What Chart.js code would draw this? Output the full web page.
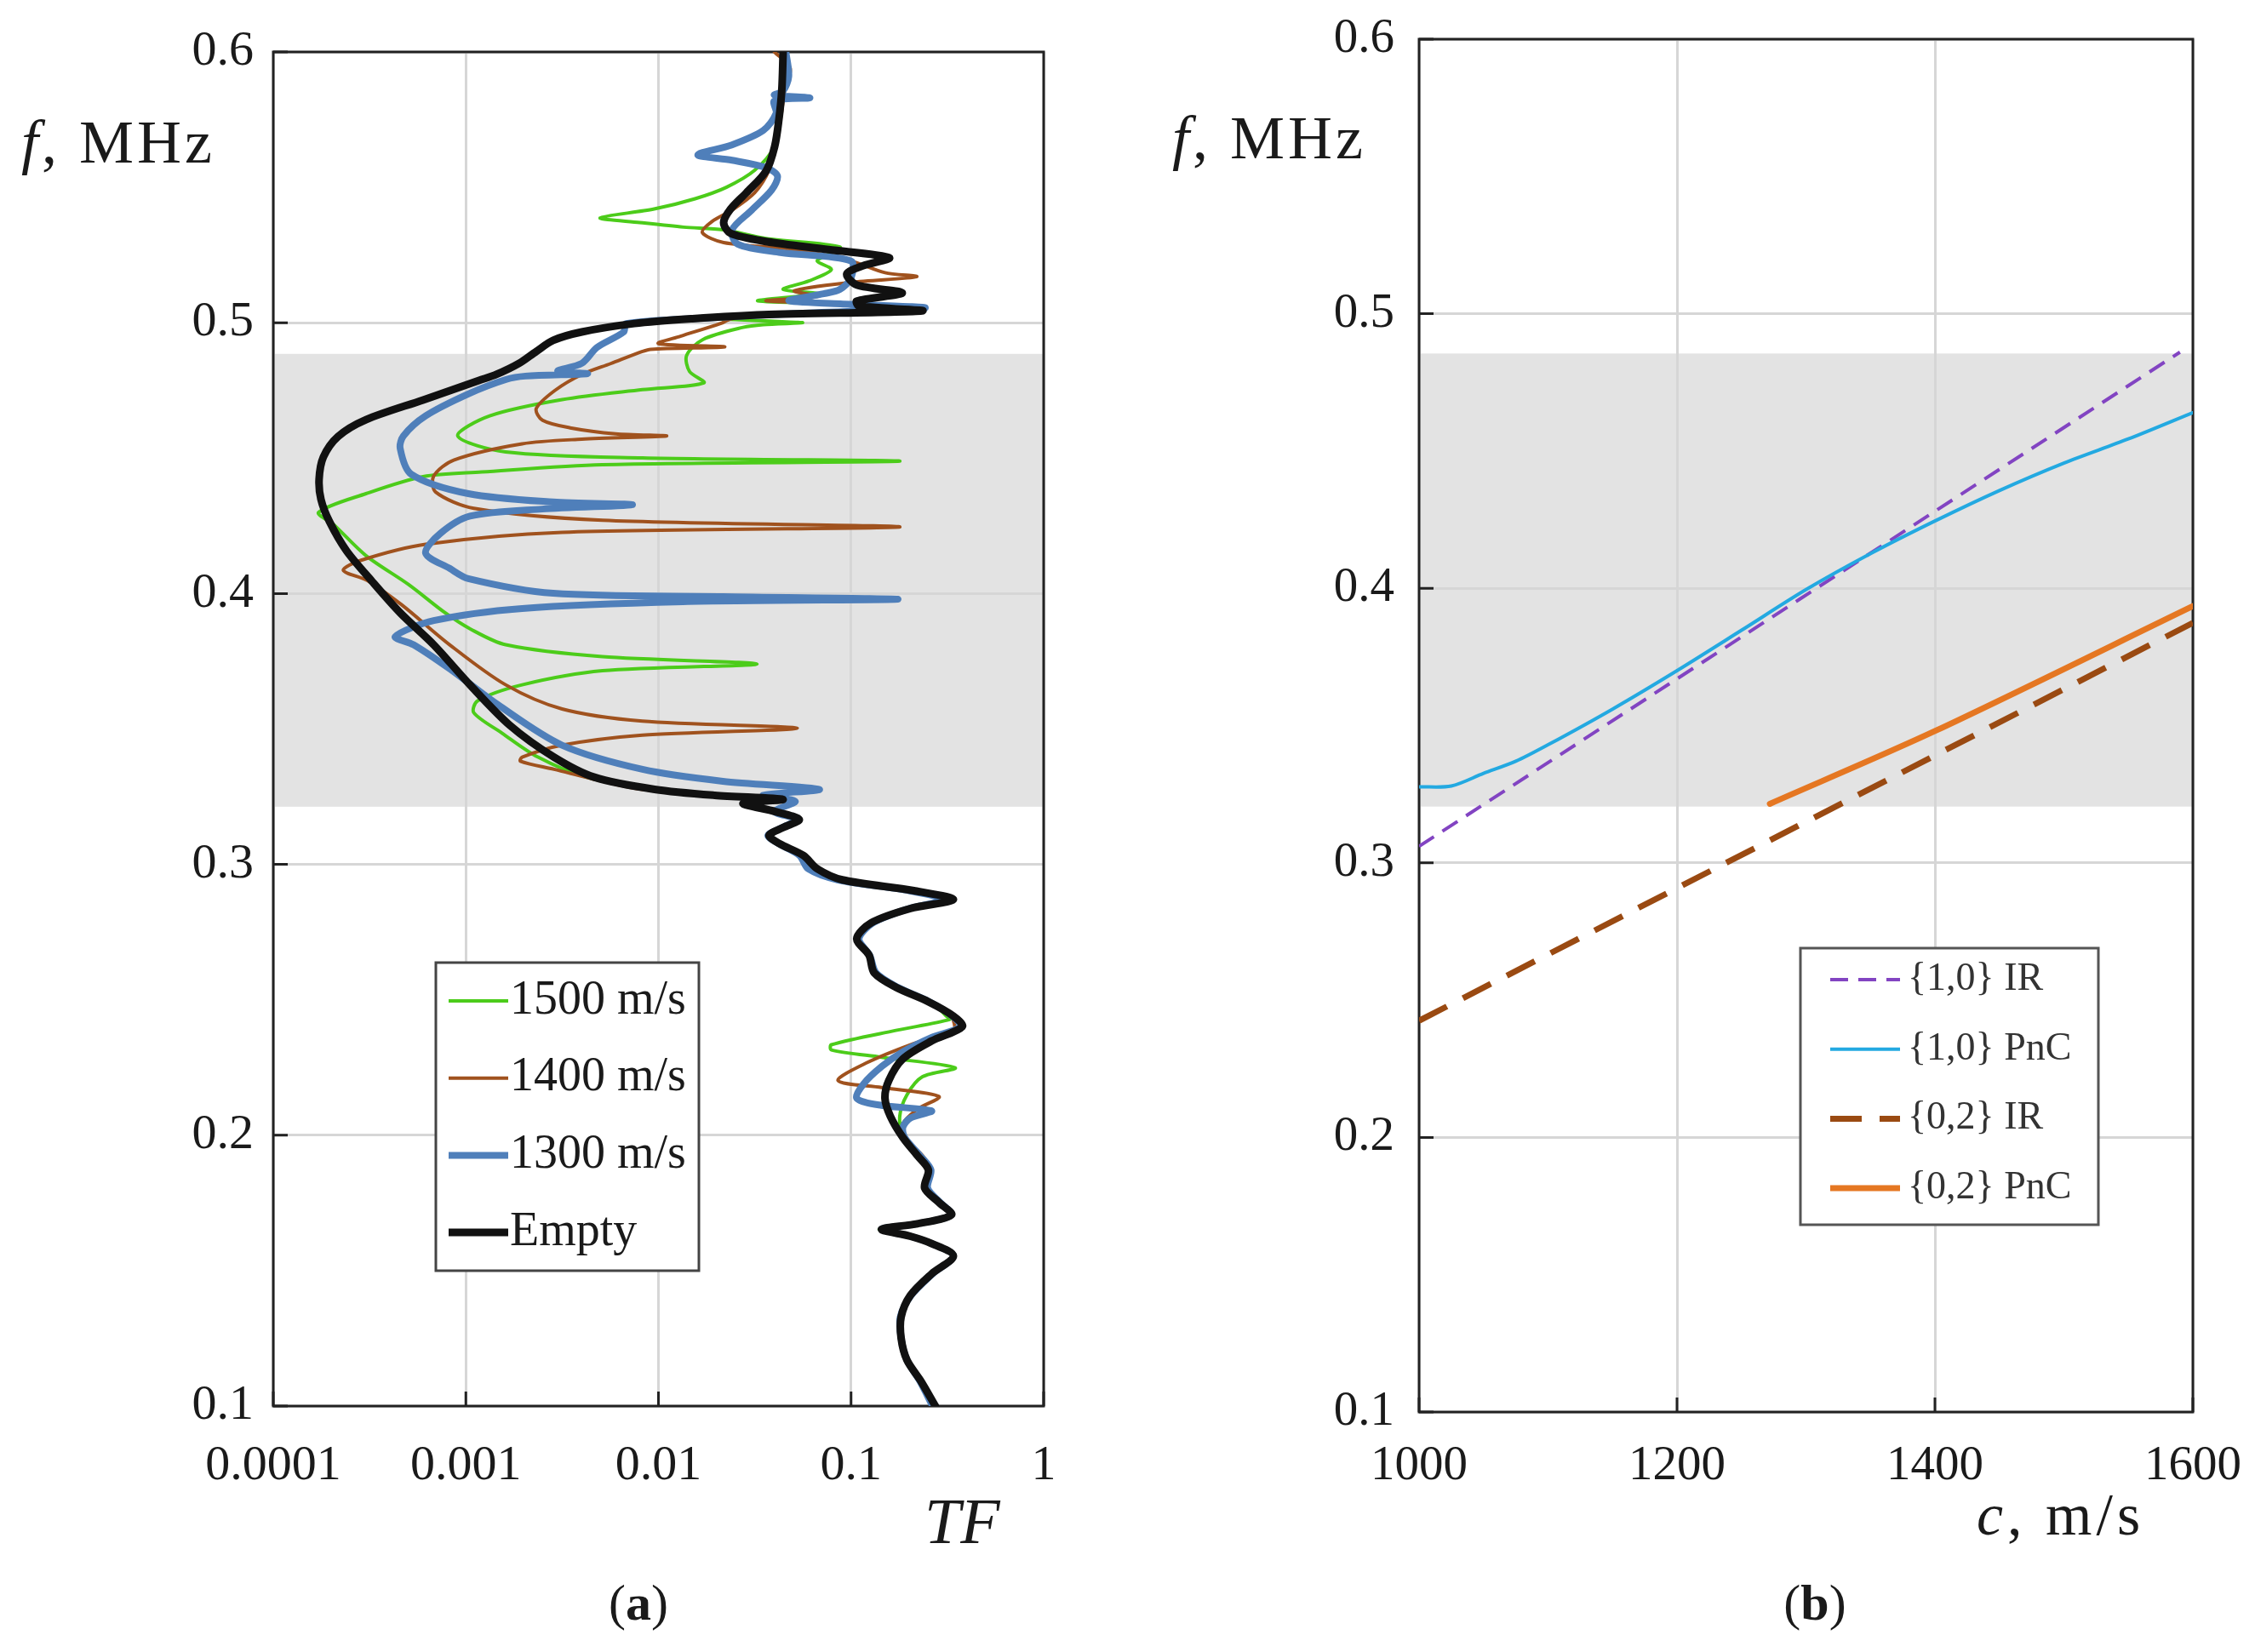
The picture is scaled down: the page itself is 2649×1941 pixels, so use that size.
<!DOCTYPE html>
<html>
<head>
<meta charset="utf-8">
<title>TF and band edges</title>
<script src="https://cdn.jsdelivr.net/npm/chart.js@4/dist/chart.umd.min.js"></script>
<style>
  html, body { margin: 0; padding: 0; background: #fff; }
  body { width: 2649px; height: 1941px; position: relative; overflow: hidden;
         font-family: "Liberation Serif", serif; color: #1a1a1a; }
  .pane { position: absolute; top: 0; }
  .lbl { position: absolute; line-height: 1; white-space: nowrap; }
</style>
</head>
<body>
<div class="pane" style="left:0;width:1300px;height:1800px"><canvas id="tfChart" width="1300" height="1800"></canvas></div>
<div class="pane" style="left:1340px;width:1309px;height:1800px"><canvas id="speedChart" width="1309" height="1800"></canvas></div>

<div class="lbl" style="left:25px;top:131px;font-size:72px;letter-spacing:4px"><i>f</i>, MHz</div>
<div class="lbl" style="left:1086px;top:1749px;font-size:76px"><i>TF</i></div>
<div class="lbl" style="left:650px;width:200px;text-align:center;top:1853px;font-size:60px">(<b>a</b>)</div>

<div class="lbl" style="left:1377px;top:126px;font-size:72px;letter-spacing:4px"><i>f</i>, MHz</div>
<div class="lbl" style="left:2322px;top:1745px;font-size:70px;letter-spacing:5px"><i>c</i>, m/s</div>
<div class="lbl" style="left:2032px;width:200px;text-align:center;top:1853px;font-size:60px">(<b>b</b>)</div>

<script>
// ---------- (a) transmission factor, pairs are [f MHz, TF] ----------
var emptyCurve = [
  [0.600,0.0444],[0.586,0.0437],[0.575,0.0422],[0.565,0.0401],[0.556,0.0362],[0.548,0.0286],
  [0.542,0.0237],[0.537,0.0218],[0.533,0.0237],[0.530,0.0362],[0.527,0.0764],[0.524,0.158],
  [0.521,0.115],[0.518,0.095],[0.514,0.107],[0.511,0.1845],[0.508,0.107],[0.5062,0.11],
  [0.5044,0.234],[0.503,0.035],[0.5015,0.0150],[0.4997,0.0075],[0.4966,0.0040],[0.4935,0.00284],
  [0.4894,0.00232],[0.4850,0.00189],[0.4809,0.00144],[0.4787,0.00117],[0.4715,0.0006],
  [0.4642,0.000303],[0.4580,0.000217],[0.4504,0.000182],[0.4422,0.000173],[0.4347,0.000177],
  [0.4265,0.000196],[0.4158,0.00024],[0.4045,0.000326],[0.3929,0.000456],[0.3811,0.000681],
  [0.3663,0.00105],[0.3514,0.00169],
  [0.3396,0.00287],[0.3322,0.00464],[0.3277,0.00955],[0.3255,0.0196],[0.3240,0.0443],
  [0.3225,0.0275],[0.3195,0.0404],[0.3166,0.0538],[0.3136,0.0444],[0.3107,0.0375],[0.3077,0.0424],
  [0.3033,0.0565],[0.2983,0.067],[0.2943,0.090],[0.2903,0.212],[0.2870,0.340],[0.2837,0.203],
  [0.2784,0.127],[0.2725,0.107],[0.2665,0.124],[0.2599,0.132],[0.2546,0.171],[0.2493,0.252],
  [0.2440,0.340],[0.2401,0.378],[0.2348,0.262],[0.2282,0.186],[0.2202,0.157],[0.2136,0.150],
  [0.2070,0.160],[0.1991,0.186],[0.1925,0.221],[0.1872,0.252],[0.1805,0.241],[0.1752,0.286],
  [0.1706,0.332],[0.1673,0.221],[0.1653,0.144],[0.1627,0.203],[0.1600,0.262],[0.1554,0.340],
  [0.1488,0.262],[0.1408,0.203],[0.1329,0.182],[0.1250,0.182],[0.1170,0.195],[0.1091,0.231],
  [0.1000,0.274]
];
var c1300Curve = [
  [0.600,0.0459],[0.591,0.0475],[0.5856,0.0444],[0.5841,0.040],[0.583,0.0612],[0.5819,0.040],
  [0.5773,0.0408],[0.571,0.035],[0.5657,0.0241],[0.562,0.016],[0.560,0.0241],[0.5573,0.0362],
  [0.5542,0.0415],[0.549,0.0387],[0.5416,0.0305],[0.5343,0.0241],[0.529,0.0258],[0.5259,0.043],
  [0.5228,0.100],[0.5165,0.100],[0.5123,0.0875],[0.5107,0.072],[0.5081,0.0475],[0.507,0.088],
  [0.5055,0.242],[0.5034,0.0508],[0.5018,0.0184],[0.4997,0.0068],[0.4966,0.0066],[0.4909,0.0048],
  [0.4850,0.0040],[0.4822,0.0030],[0.4812,0.00428],[0.4803,0.00204],[0.4790,0.00161],[0.4737,0.00103],
  [0.4656,0.000618],[0.4582,0.000474],[0.4536,0.000456],[0.4441,0.00052],[0.4369,0.00103],
  [0.4338,0.00284],[0.4328,0.00733],[0.4312,0.00249],[0.4286,0.00105],[0.4221,0.000734],
  [0.4149,0.000618],[0.4093,0.000824],[0.4055,0.00103],[0.4001,0.00284],[0.3989,0.0216],
  [0.3979,0.175],[0.3970,0.0134],[0.3945,0.00196],[0.3900,0.000681],[0.3841,0.00043],
  [0.3811,0.000535],[0.3722,0.000824],[0.3589,0.00147],[0.3440,0.00316],[0.3351,0.00826],
  [0.3307,0.0216],[0.3277,0.0684],[0.3255,0.0349],[0.3233,0.0513],[0.3195,0.040],[0.3166,0.052],
  [0.3136,0.044],[0.3107,0.037],[0.3077,0.042],[0.3033,0.054],[0.2983,0.060],[0.2943,0.085],
  [0.2903,0.20],[0.2870,0.30],[0.2837,0.20],[0.2784,0.13],[0.2725,0.11],[0.2665,0.125],
  [0.2599,0.135],[0.2546,0.175],[0.2493,0.255],[0.2440,0.335],[0.2401,0.37],[0.2361,0.262],
  [0.2308,0.186],[0.2255,0.145],[0.2189,0.116],[0.2136,0.107],[0.2110,0.144],[0.2090,0.262],
  [0.2063,0.203],[0.2030,0.186],[0.1991,0.19],[0.1925,0.228],[0.1872,0.26],[0.1805,0.25],
  [0.1752,0.29],[0.1706,0.332],[0.1673,0.221],[0.1653,0.144],[0.1627,0.203],[0.1600,0.262],
  [0.1554,0.34],[0.1488,0.265],[0.1408,0.205],[0.1329,0.18],[0.1250,0.182],[0.1170,0.195],
  [0.1091,0.228],[0.1000,0.265]
];
var c1400Curve = [
  [0.600,0.040],[0.594,0.0483],[0.5856,0.0452],[0.575,0.043],[0.5647,0.040],[0.5563,0.0375],
  [0.548,0.0316],[0.5416,0.0241],[0.5374,0.019],[0.5333,0.0169],[0.5296,0.0218],[0.527,0.0508],
  [0.5228,0.100],[0.5185,0.15],[0.517,0.219],[0.5149,0.100],[0.5118,0.0508],[0.5097,0.0667],
  [0.5081,0.0362],[0.5070,0.0875],[0.5055,0.141],[0.5034,0.05],[0.5015,0.024],[0.4997,0.0210],
  [0.4950,0.0130],[0.4923,0.0100],[0.4911,0.0221],[0.4902,0.0091],[0.4894,0.00826],[0.4849,0.00564],
  [0.4809,0.0040],[0.4750,0.00290],[0.4683,0.00232],[0.4640,0.00250],[0.4612,0.00348],[0.4590,0.006],
  [0.4582,0.011],[0.4570,0.004],[0.4553,0.00196],[0.4493,0.000865],[0.4434,0.000681],[0.4375,0.000697],
  [0.4315,0.0011],[0.4271,0.00512],[0.4246,0.179],[0.4226,0.00316],[0.4182,0.000618],
  [0.4123,0.000286],[0.4086,0.000231],[0.4048,0.000308],[0.3959,0.000463],[0.3811,0.000824],
  [0.3663,0.00161],[0.3574,0.00316],[0.3529,0.00826],[0.3503,0.0526],[0.3477,0.00826],
  [0.3440,0.00316],[0.3396,0.00196],[0.3381,0.00192],[0.3351,0.00287],[0.3307,0.00512],
  [0.3277,0.00826],[0.3255,0.0216],[0.3240,0.044],[0.3225,0.028],[0.3195,0.040],[0.3166,0.053],
  [0.3136,0.044],[0.3107,0.038],[0.3077,0.043],[0.3033,0.057],[0.2983,0.066],[0.2943,0.088],
  [0.2903,0.205],[0.2870,0.32],[0.2837,0.20],[0.2784,0.128],[0.2725,0.108],[0.2665,0.125],
  [0.2599,0.133],[0.2546,0.172],[0.2493,0.25],[0.2440,0.33],[0.2387,0.340],[0.2334,0.203],
  [0.2268,0.121],[0.2202,0.0856],[0.2176,0.144],[0.2143,0.286],[0.2096,0.221],[0.2043,0.186],
  [0.1991,0.19],[0.1925,0.235],[0.1872,0.26],[0.1805,0.245],[0.1752,0.288],[0.1706,0.332],
  [0.1673,0.221],[0.1653,0.144],[0.1627,0.203],[0.1600,0.262],[0.1554,0.34],[0.1488,0.262],
  [0.1408,0.203],[0.1329,0.182],[0.1250,0.182],[0.1170,0.195],[0.1091,0.231],[0.1000,0.274]
];
var c1500Curve = [
  [0.600,0.0444],[0.586,0.0437],[0.575,0.0422],[0.565,0.040],[0.5563,0.0316],[0.550,0.0225],
  [0.5458,0.0155],[0.5420,0.0095],[0.5387,0.00498],[0.5370,0.008],[0.5353,0.0135],[0.5343,0.0218],
  [0.5311,0.0362],[0.528,0.0875],[0.5250,0.075],[0.5228,0.0667],[0.5196,0.079],[0.5154,0.0603],
  [0.5123,0.0444],[0.5107,0.067],[0.5081,0.0327],[0.507,0.078],[0.5055,0.141],[0.5034,0.05],
  [0.5018,0.018],[0.5005,0.040],[0.5000,0.056],[0.4993,0.035],[0.4983,0.0275],[0.4938,0.017],
  [0.4879,0.014],[0.4820,0.0145],[0.4778,0.0172],[0.4753,0.00826],[0.4716,0.00316],[0.4656,0.00133],
  [0.4582,0.000908],[0.4523,0.00161],[0.4501,0.00826],[0.4489,0.179],[0.4476,0.00512],
  [0.4449,0.00121],[0.4432,0.0006],[0.4369,0.000303],[0.4300,0.000172],[0.4256,0.000205],
  [0.4140,0.000303],[0.4033,0.000505],[0.3929,0.00078],[0.3870,0.00105],[0.3811,0.00161],[0.3767,0.00512],
  [0.3740,0.0325],[0.3715,0.00512],[0.3663,0.00196],[0.3604,0.00115],[0.3560,0.0011],
  [0.3485,0.00154],[0.3396,0.00237],[0.3322,0.00422],[0.3277,0.0095],[0.3255,0.0196],
  [0.3240,0.0443],[0.3225,0.028],[0.3195,0.040],[0.3166,0.053],[0.3136,0.044],[0.3107,0.037],
  [0.3077,0.041],[0.3033,0.056],[0.2983,0.066],[0.2943,0.09],[0.2903,0.21],[0.2870,0.33],
  [0.2837,0.20],[0.2784,0.127],[0.2725,0.107],[0.2665,0.126],[0.2599,0.135],[0.2546,0.175],
  [0.2493,0.26],[0.2440,0.312],[0.2427,0.325],[0.2387,0.171],[0.2334,0.079],[0.2315,0.079],
  [0.2288,0.144],[0.2249,0.347],[0.2216,0.235],[0.2149,0.195],[0.2070,0.179],[0.1991,0.186],
  [0.1925,0.221],[0.1872,0.252],[0.1805,0.241],[0.1752,0.286],[0.1706,0.332],[0.1673,0.221],
  [0.1653,0.14],[0.1627,0.203],[0.1600,0.262],[0.1554,0.340],[0.1488,0.262],[0.1408,0.203],
  [0.1329,0.182],[0.1250,0.182],[0.1170,0.195],[0.1091,0.231],[0.1000,0.274]
];
var tfTicks = [0.0001, 0.001, 0.01, 0.1, 1];
var tfTickLabels = ['0.0001', '0.001', '0.01', '0.1', '1'];
var freqTicks = [0.1, 0.2, 0.3, 0.4, 0.5, 0.6];
var freqTickLabels = ['0.1', '0.2', '0.3', '0.4', '0.5', '0.6'];
var bandA = [0.3213, 0.4885];

// ---------- (b) band edge vs sound speed, pairs are [c m/s, f MHz] ----------
var ir10Curve = [[1000,0.306],[1590,0.486]];
var pnc10Curve = [[1000,0.3277],[1025,0.328],[1050,0.3326],[1075,0.337],[1100,0.343],[1150,0.356],
  [1200,0.370],[1250,0.3847],[1300,0.3995],[1350,0.4126],[1400,0.4245],[1450,0.4356],[1500,0.4456],
  [1550,0.4544],[1600,0.464]];
var ir02Curve = [[1000,0.2425],[1600,0.3874]];
var pnc02Curve = [[1272,0.3215],[1400,0.348],[1600,0.3935]];
var speedTicks = [1000, 1200, 1400, 1600];
var speedTickLabels = ['1000', '1200', '1400', '1600'];
var bandB = [0.3205, 0.4855];

var SERIF = '"Liberation Serif", serif';

function tfPoints(curve) { return curve.map(function(p) { return {x: p[1], y: p[0]}; }); }
function speedPoints(curve) { return curve.map(function(p) { return {x: p[0], y: p[1]}; }); }

// keep label overhang from pushing the plot box around
function noOverhang(s) { s.paddingTop = 0; s.paddingBottom = 0; s.paddingLeft = 0; s.paddingRight = 0; }

// grey stop band behind the grid
var bandPlugin = {
  id: 'band',
  beforeDraw: function(chart, args, o) {
    var a = chart.chartArea, y = chart.scales.y, ctx = chart.ctx;
    var top = y.getPixelForValue(o.range[1]), bot = y.getPixelForValue(o.range[0]);
    ctx.save();
    ctx.fillStyle = o.color;
    ctx.fillRect(a.left, top, a.right - a.left, bot - top);
    ctx.restore();
  }
};

// box round the plot + short inward ticks
var framePlugin = {
  id: 'frame',
  beforeDatasetsDraw: function(chart, args, o) {
    var a = chart.chartArea, ctx = chart.ctx, sx = chart.scales.x, sy = chart.scales.y;
    ctx.save();
    ctx.strokeStyle = o.color;
    ctx.lineWidth = o.width;
    ctx.beginPath();
    sx.ticks.forEach(function(t) {
      var px = sx.getPixelForValue(t.value);
      ctx.moveTo(px, a.bottom); ctx.lineTo(px, a.bottom - o.tick);
    });
    sy.ticks.forEach(function(t) {
      var py = sy.getPixelForValue(t.value);
      ctx.moveTo(a.left, py); ctx.lineTo(a.left + o.tick, py);
    });
    ctx.stroke();
    ctx.strokeRect(a.left, a.top, a.right - a.left, a.bottom - a.top);
    ctx.restore();
  }
};

// legend drawn inside the plot like the original
var legendBoxPlugin = {
  id: 'legendBox',
  afterDraw: function(chart, args, o) {
    var ctx = chart.ctx;
    ctx.save();
    ctx.fillStyle = '#fff';
    ctx.fillRect(o.left, o.top, o.width, o.height);
    ctx.strokeStyle = o.borderColor;
    ctx.lineWidth = o.borderWidth;
    ctx.strokeRect(o.left, o.top, o.width, o.height);
    ctx.font = o.font;
    ctx.textBaseline = 'middle';
    ctx.textAlign = 'left';
    o.order.forEach(function(di, k) {
      var ds = chart.data.datasets[di];
      var y = o.firstRow + k * o.rowGap;
      ctx.beginPath();
      ctx.setLineDash(ds.borderDash || []);
      ctx.strokeStyle = ds.borderColor;
      ctx.lineWidth = ds.borderWidth;
      ctx.moveTo(o.lineX0, y);
      ctx.lineTo(o.lineX1, y);
      ctx.stroke();
      ctx.setLineDash([]);
      ctx.fillStyle = o.textColor;
      ctx.fillText(ds.label, o.textX, y);
    });
    ctx.restore();
  }
};

function lineSet(label, points, color, width, dash) {
  return {
    label: label, data: points, showLine: true, pointRadius: 0, pointHoverRadius: 0,
    borderColor: color, backgroundColor: color, borderWidth: width, borderDash: dash || [],
    tension: 0.3, borderJoinStyle: 'round', borderCapStyle: dash ? 'butt' : 'round', fill: false
  };
}

var gridStyle = { color: '#d6d6d6', lineWidth: 3, drawTicks: false };

// ---- chart (a)
new Chart(document.getElementById('tfChart'), {
  type: 'scatter',
  data: {
    datasets: [
      lineSet('Empty', tfPoints(emptyCurve), '#111111', 9),
      lineSet('1300 m/s', tfPoints(c1300Curve), '#4f7fba', 8),
      lineSet('1400 m/s', tfPoints(c1400Curve), '#a0521e', 4),
      lineSet('1500 m/s', tfPoints(c1500Curve), '#4ccc1a', 4)
    ]
  },
  options: {
    responsive: false,
    animation: false,
    layout: { padding: { left: 0, top: 61, right: 74, bottom: 0 } },
    scales: {
      x: {
        type: 'logarithmic', min: 0.0001, max: 1,
        afterBuildTicks: function(s) { s.ticks = tfTicks.map(function(v) { return {value: v}; }); },
        afterFit: function(s) { s.height = 148; noOverhang(s); },
        grid: gridStyle,
        border: { display: false },
        ticks: {
          autoSkip: false, maxRotation: 0, padding: 36, color: '#1a1a1a',
          font: { family: SERIF, size: 58 },
          callback: function(v, i) { return tfTickLabels[i]; }
        }
      },
      y: {
        type: 'linear', min: 0.1, max: 0.6,
        afterBuildTicks: function(s) { s.ticks = freqTicks.map(function(v) { return {value: v}; }); },
        afterFit: function(s) { s.width = 321; noOverhang(s); },
        grid: gridStyle,
        border: { display: false },
        ticks: {
          padding: 23, color: '#1a1a1a',
          font: { family: SERIF, size: 58 },
          callback: function(v, i) { return freqTickLabels[i]; }
        }
      }
    },
    plugins: {
      legend: { display: false },
      tooltip: { enabled: false },
      band: { range: bandA, color: '#e3e3e3' },
      frame: { color: '#222', width: 3, tick: 17 },
      legendBox: {
        left: 512, top: 1131, width: 309, height: 362, borderColor: '#444', borderWidth: 3,
        firstRow: 1176, rowGap: 90.7, lineX0: 527, lineX1: 597, textX: 599,
        font: '56px ' + SERIF, textColor: '#1a1a1a', order: [3, 2, 1, 0]
      }
    }
  },
  plugins: [bandPlugin, framePlugin, legendBoxPlugin]
});

// ---- chart (b)
new Chart(document.getElementById('speedChart'), {
  type: 'scatter',
  data: {
    datasets: [
      lineSet('{1,0} PnC', speedPoints(pnc10Curve), '#23a9e1', 4),
      lineSet('{1,0} IR', speedPoints(ir10Curve), '#8244c2', 4, [21, 12]),
      lineSet('{0,2} PnC', speedPoints(pnc02Curve), '#e57722', 7),
      lineSet('{0,2} IR', speedPoints(ir02Curve), '#9a4a12', 7, [37, 21])
    ]
  },
  options: {
    responsive: false,
    animation: false,
    layout: { padding: { left: 0, top: 46, right: 73, bottom: 0 } },
    scales: {
      x: {
        type: 'linear', min: 1000, max: 1600,
        afterBuildTicks: function(s) { s.ticks = speedTicks.map(function(v) { return {value: v}; }); },
        afterFit: function(s) { s.height = 141; noOverhang(s); },
        grid: gridStyle,
        border: { display: false },
        ticks: {
          autoSkip: false, maxRotation: 0, padding: 30, color: '#1a1a1a',
          font: { family: SERIF, size: 57 },
          callback: function(v, i) { return speedTickLabels[i]; }
        }
      },
      y: {
        type: 'linear', min: 0.1, max: 0.6,
        afterBuildTicks: function(s) { s.ticks = freqTicks.map(function(v) { return {value: v}; }); },
        afterFit: function(s) { s.width = 327; noOverhang(s); },
        grid: gridStyle,
        border: { display: false },
        ticks: {
          padding: 29, color: '#1a1a1a',
          font: { family: SERIF, size: 57 },
          callback: function(v, i) { return freqTickLabels[i]; }
        }
      }
    },
    plugins: {
      legend: { display: false },
      tooltip: { enabled: false },
      band: { range: bandB, color: '#e3e3e3' },
      frame: { color: '#222', width: 3, tick: 17 },
      legendBox: {
        left: 775, top: 1114, width: 350, height: 325, borderColor: '#555', borderWidth: 3,
        firstRow: 1151, rowGap: 81.7, lineX0: 810, lineX1: 892, textX: 901,
        font: '46px ' + SERIF, textColor: '#333', order: [1, 0, 3, 2]
      }
    }
  },
  plugins: [bandPlugin, framePlugin, legendBoxPlugin]
});
</script>
</body>
</html>
